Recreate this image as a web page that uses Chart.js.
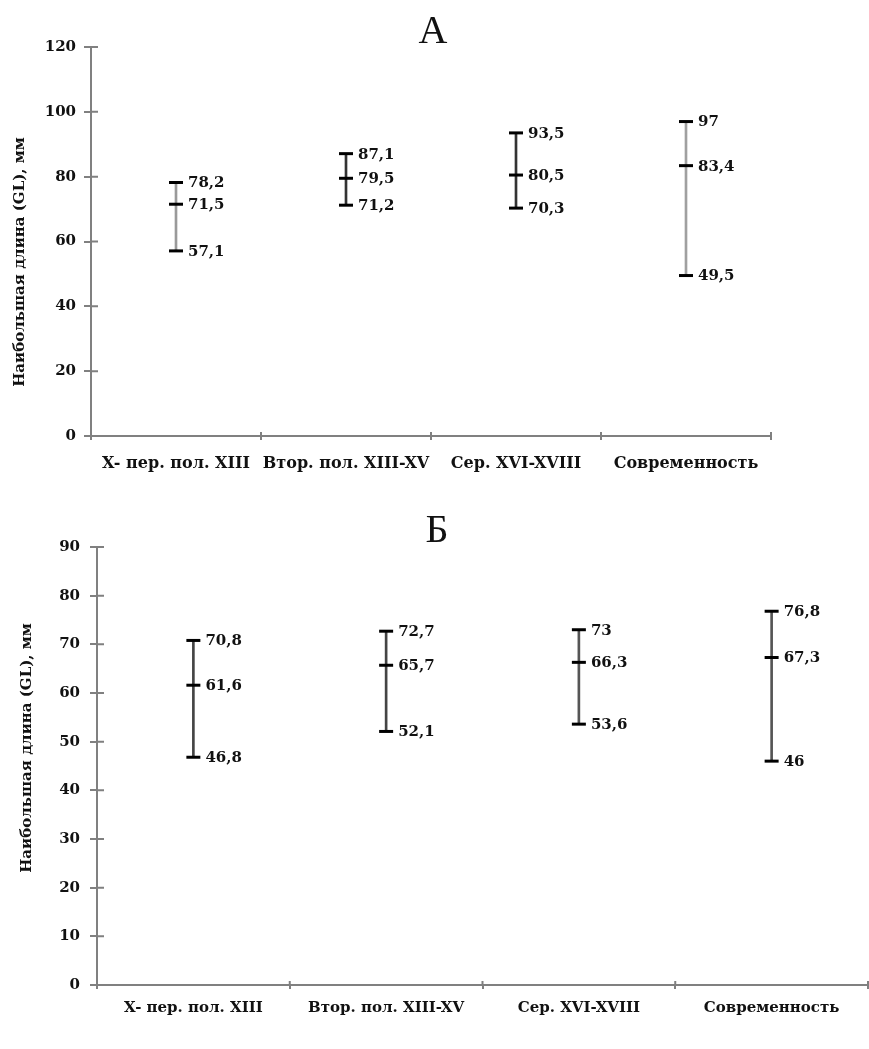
<!DOCTYPE html>
<html lang="ru">
<head>
<meta charset="UTF-8">
<title>Наибольшая длина (GL), мм</title>
<style>
    body { margin: 0; background: #fff; }
    canvas { display: block; }
</style>
<script src="https://cdn.jsdelivr.net/npm/chart.js"></script>
</head>
<body>
<canvas id="chartA" width="869" height="490"></canvas>
<canvas id="chartB" width="869" height="559"></canvas>
<script>
    const categories = ['X- пер. пол. XIII', 'Втор. пол. XIII-XV', 'Сер. XVI-XVIII', 'Современность'];
    const yTitle = 'Наибольшая длина (GL), мм';

    // А
    const minA = [57.1, 71.2, 70.3, 49.5];
    const meanA = [71.5, 79.5, 80.5, 83.4];
    const maxA = [78.2, 87.1, 93.5, 97];
    const yMaxA = 120, yStepA = 20;

    // Б
    const minB = [46.8, 52.1, 53.6, 46];
    const meanB = [61.6, 65.7, 66.3, 67.3];
    const maxB = [70.8, 72.7, 73, 76.8];
    const yMaxB = 90, yStepB = 10;

    const SERIF = '"DejaVu Serif", serif';
    const AXIS = '#808080';

    function fmt(v) { return String(v).replace('.', ','); }

    // подписи значений справа от засечек
    const whiskerLabels = {
        id: 'whiskerLabels',
        afterDatasetsDraw(chart, args, opts) {
            const ctx = chart.ctx;
            ctx.save();
            ctx.font = 'bold ' + opts.size + 'px ' + SERIF;
            ctx.fillStyle = '#111';
            ctx.textBaseline = 'middle';
            ctx.textAlign = 'left';
            chart.data.datasets.forEach((ds, i) => {
                if (ds.type !== 'line') return;
                chart.getDatasetMeta(i).data.forEach((pt, j) => {
                    ctx.fillText(fmt(ds.data[j]), pt.x + opts.dx, pt.y + 1);
                });
            });
            ctx.restore();
        }
    };

    // внутренняя половина засечек на осях
    const innerTicks = {
        id: 'innerTicks',
        afterDraw(chart, args, opts) {
            const { ctx, chartArea, scales } = chart;
            ctx.save();
            ctx.strokeStyle = AXIS;
            ctx.lineWidth = 2;
            ctx.beginPath();
            scales.y.ticks.forEach((t, i) => {
                const y = scales.y.getPixelForTick(i);
                ctx.moveTo(chartArea.left, y);
                ctx.lineTo(chartArea.left + opts.yLen, y);
            });
            for (let i = 0; i <= chart.data.labels.length; i++) {
                const x = scales.x.getPixelForValue(i - 0.5);
                ctx.moveTo(x, chartArea.bottom);
                ctx.lineTo(x, chartArea.bottom - opts.xLen);
            }
            ctx.stroke();
            ctx.restore();
        }
    };

    // буква над графиком и подпись оси Y
    const captions = {
        id: 'captions',
        afterDraw(chart, args, opts) {
            const ctx = chart.ctx;
            ctx.save();
            ctx.fillStyle = '#111';
            ctx.textAlign = 'center';
            ctx.textBaseline = 'alphabetic';
            ctx.font = '40px "Liberation Serif", serif';
            ctx.fillText(opts.letter, opts.letterX, opts.letterY);
            ctx.translate(opts.titleX, opts.titleY);
            ctx.rotate(-Math.PI / 2);
            ctx.textBaseline = 'middle';
            ctx.font = 'bold ' + opts.titleSize + 'px ' + SERIF;
            ctx.fillText(yTitle, 0, 0);
            ctx.restore();
        }
    };

    function makeChart(id, o) {
        const font = { family: SERIF, weight: 'bold' };
        const point = {
            type: 'line',
            showLine: false,
            pointStyle: 'line',
            pointRadius: 7,
            pointHoverRadius: 7,
            pointBorderWidth: 3,
            pointBorderColor: '#000',
            borderColor: '#000',
            order: 1
        };
        return new Chart(document.getElementById(id), {
            type: 'bar',
            data: {
                labels: categories,
                datasets: [
                    {
                        type: 'bar',
                        data: o.min.map((v, i) => [v, o.max[i]]),
                        backgroundColor: o.stemColors,
                        borderWidth: 0,
                        barThickness: 2,
                        order: 2
                    },
                    Object.assign({ data: o.max }, point),
                    Object.assign({ data: o.mean }, point),
                    Object.assign({ data: o.min }, point)
                ]
            },
            options: {
                responsive: false,
                animation: false,
                events: [],
                layout: {
                    autoPadding: false,
                    padding: { left: 0, right: o.padRight, top: o.padTop, bottom: o.padBottom }
                },
                scales: {
                    x: {
                        offset: true,
                        grid: { offset: true, drawOnChartArea: false, tickLength: 4, color: AXIS, lineWidth: 2 },
                        border: { color: AXIS, width: 2 },
                        ticks: {
                            color: '#111',
                            font: Object.assign({ size: o.xFont }, font),
                            padding: o.xPad,
                            maxRotation: 0,
                            autoSkip: false
                        },
                        afterFit: s => { s.height = o.xAxisH; }
                    },
                    y: {
                        min: 0,
                        max: o.yMax,
                        grid: { drawOnChartArea: false, tickLength: 7, color: AXIS, lineWidth: 2 },
                        border: { color: AXIS, width: 2 },
                        ticks: {
                            stepSize: o.yStep,
                            color: '#111',
                            font: Object.assign({ size: 15 }, font),
                            padding: o.yPad
                        },
                        afterFit: s => { s.width = o.yAxisW; }
                    }
                },
                plugins: {
                    legend: { display: false },
                    tooltip: { enabled: false },
                    whiskerLabels: { dx: 12, size: 15 },
                    innerTicks: { yLen: 7, xLen: 4 },
                    captions: o.captions
                }
            },
            plugins: [whiskerLabels, innerTicks, captions]
        });
    }

    makeChart('chartA', {
        min: minA, mean: meanA, max: maxA,
        yMax: yMaxA, yStep: yStepA,
        stemColors: ['#9a9a9a', '#333', '#333', '#a0a0a0'],
        padRight: 98, padTop: 47, padBottom: 10, xAxisH: 44,
        yAxisW: 91, yPad: 8, xFont: 16, xPad: 14,
        captions: { letter: 'А', letterX: 433, letterY: 43, titleX: 20, titleY: 262, titleSize: 15 }
    });

    makeChart('chartB', {
        min: minB, mean: meanB, max: maxB,
        yMax: yMaxB, yStep: yStepB,
        stemColors: ['#444', '#444', '#555', '#555'],
        padRight: 1, padTop: 57, padBottom: 20, xAxisH: 44,
        yAxisW: 97, yPad: 10, xFont: 15, xPad: 10,
        captions: { letter: 'Б', letterX: 437, letterY: 52, titleX: 27, titleY: 258, titleSize: 15 }
    });
</script>
</body>
</html>
